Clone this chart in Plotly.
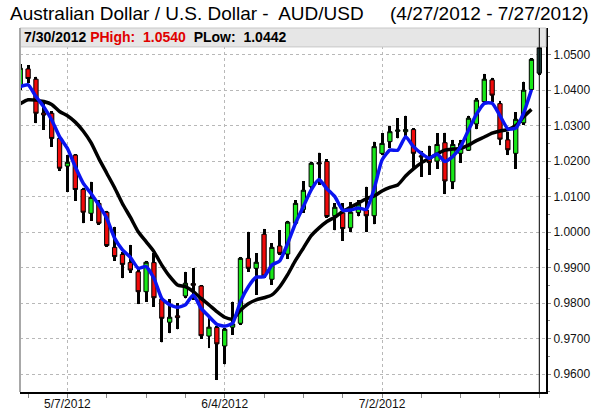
import plotly.graph_objects as go

# trading days 4/27/2012 .. 7/30/2012
dates = [
    "4/27/2012", "4/30/2012", "5/1/2012", "5/2/2012", "5/3/2012", "5/4/2012",
    "5/7/2012", "5/8/2012", "5/9/2012", "5/10/2012", "5/11/2012",
    "5/14/2012", "5/15/2012", "5/16/2012", "5/17/2012", "5/18/2012",
    "5/21/2012", "5/22/2012", "5/23/2012", "5/24/2012", "5/25/2012",
    "5/28/2012", "5/29/2012", "5/30/2012", "5/31/2012", "6/1/2012",
    "6/4/2012", "6/5/2012", "6/6/2012", "6/7/2012", "6/8/2012",
    "6/11/2012", "6/12/2012", "6/13/2012", "6/14/2012", "6/15/2012",
    "6/18/2012", "6/19/2012", "6/20/2012", "6/21/2012", "6/22/2012",
    "6/25/2012", "6/26/2012", "6/27/2012", "6/28/2012", "6/29/2012",
    "7/2/2012", "7/3/2012", "7/4/2012", "7/5/2012", "7/6/2012",
    "7/9/2012", "7/10/2012", "7/11/2012", "7/12/2012", "7/13/2012",
    "7/16/2012", "7/17/2012", "7/18/2012", "7/19/2012", "7/20/2012",
    "7/23/2012", "7/24/2012", "7/25/2012", "7/26/2012", "7/27/2012",
    "7/30/2012",
]

open_ = [
    1.0413, 1.0460, 1.0431, 1.0336, 1.0335, 1.0264, 1.0186, 1.0217, 1.0120, 1.0053, 1.0081,
    1.0056, 0.9957, 0.9937, 0.9914, 0.9888, 0.9832, 0.9914, 0.9811, 0.9746, 0.9764,
    0.9820, 0.9855, 0.9848, 0.9707, 0.9731, 0.9679, 0.9732, 0.9743, 0.9926, 0.9898,
    0.9994, 0.9867, 0.9961, 0.9938, 1.0025, 1.0064, 1.0128, 1.0196, 1.0199, 1.0046,
    1.0054, 1.0012, 1.0055, 1.0062, 1.0046, 1.0222, 1.0255, 1.0284, 1.0283, 1.0289,
    1.0215, 1.0209, 1.0200, 1.0252, 1.0142, 1.0222, 1.0231, 1.0305, 1.0368, 1.0429,
    1.0362, 1.0260, 1.0222, 1.0308, 1.0402, 1.0448,
]
high = [
    1.0475, 1.0471, 1.0438, 1.0368, 1.0340, 1.0268, 1.0217, 1.0220, 1.0125, 1.0142, 1.0090,
    1.0060, 1.0015, 0.9945, 0.9964, 0.9903, 0.9919, 0.9940, 0.9815, 0.9811, 0.9799,
    0.9888, 0.9898, 0.9851, 0.9762, 0.9735, 0.9731, 0.9804, 0.9930, 1.0001, 0.9940,
    1.0009, 0.9968, 1.0006, 1.0032, 1.0090, 1.0144, 1.0199, 1.0224, 1.0205, 1.0082,
    1.0081, 1.0084, 1.0090, 1.0128, 1.0255, 1.0278, 1.0300, 1.0321, 1.0328, 1.0293,
    1.0229, 1.0244, 1.0278, 1.0280, 1.0260, 1.0260, 1.0328, 1.0378, 1.0446, 1.0435,
    1.0370, 1.0283, 1.0338, 1.0424, 1.0490, 1.0540,
]
low = [
    1.0400, 1.0419, 1.0307, 1.0288, 1.0241, 1.0172, 1.0114, 1.0089, 1.0025, 1.0032, 1.0020,
    0.9959, 0.9919, 0.9870, 0.9886, 0.9797, 0.9804, 0.9790, 0.9689, 0.9715, 0.9726,
    0.9813, 0.9809, 0.9700, 0.9673, 0.9583, 0.9627, 0.9710, 0.9738, 0.9888, 0.9823,
    0.9870, 0.9851, 0.9935, 0.9924, 1.0020, 1.0055, 1.0120, 1.0133, 1.0040, 1.0005,
    0.9975, 1.0001, 1.0044, 1.0000, 1.0022, 1.0217, 1.0236, 1.0264, 1.0264, 1.0180,
    1.0156, 1.0161, 1.0178, 1.0107, 1.0121, 1.0195, 1.0229, 1.0290, 1.0362, 1.0366,
    1.0245, 1.0217, 1.0178, 1.0302, 1.0400, 1.0442,
]
close = [
    1.0462, 1.0433, 1.0335, 1.0330, 1.0264, 1.0180, 1.0197, 1.0120, 1.0056, 1.0098, 1.0025,
    0.9962, 0.9931, 0.9909, 0.9893, 0.9832, 0.9915, 0.9815, 0.9757, 0.9760, 0.9759,
    0.9856, 0.9850, 0.9708, 0.9732, 0.9685, 0.9726, 0.9741, 0.9926, 0.9898, 0.9915,
    0.9876, 0.9957, 0.9940, 1.0028, 1.0081, 1.0118, 1.0194, 1.0192, 1.0044, 1.0070,
    1.0010, 1.0056, 1.0079, 1.0046, 1.0241, 1.0250, 1.0283, 1.0288, 1.0289, 1.0222,
    1.0212, 1.0196, 1.0247, 1.0144, 1.0247, 1.0250, 1.0321, 1.0372, 1.0431, 1.0386,
    1.0262, 1.0232, 1.0318, 1.0400, 1.0487, 1.0520,
]

# moving averages (4/27 .. 7/27)
ma_fast = [
    1.0410, 1.0415, 1.0382, 1.0353, 1.0316, 1.0269, 1.0236, 1.0184, 1.0138, 1.0109, 1.0076,
    1.0039, 0.9983, 0.9950, 0.9929, 0.9898, 0.9903, 0.9870, 0.9813, 0.9795, 0.9788,
    0.9795, 0.9823, 0.9785, 0.9762, 0.9740, 0.9735, 0.9743, 0.9804, 0.9846, 0.9873,
    0.9874, 0.9907, 0.9919, 0.9968, 1.0025, 1.0072, 1.0119, 1.0148, 1.0122, 1.0100,
    1.0062, 1.0062, 1.0068, 1.0064, 1.0122, 1.0203, 1.0231, 1.0231, 1.0269, 1.0241,
    1.0222, 1.0208, 1.0220, 1.0199, 1.0213, 1.0241, 1.0288, 1.0332, 1.0363, 1.0363,
    1.0328, 1.0291, 1.0293, 1.0335, 1.0401,
]
ma_slow = [
    1.0362, 1.0373, 1.0372, 1.0368, 1.0360, 1.0340, 1.0328, 1.0310, 1.0285, 1.0252, 1.0207,
    1.0166, 1.0125, 1.0080, 1.0042, 1.0001, 0.9973, 0.9945, 0.9907, 0.9875, 0.9851,
    0.9846, 0.9832, 0.9813, 0.9795, 0.9776, 0.9760, 0.9755, 0.9780, 0.9798, 0.9809,
    0.9815, 0.9823, 0.9846, 0.9880, 0.9920, 0.9955, 0.9990, 1.0012, 1.0030, 1.0042,
    1.0058, 1.0070, 1.0082, 1.0094, 1.0102, 1.0116, 1.0126, 1.0133, 1.0158, 1.0178,
    1.0195, 1.0208, 1.0220, 1.0231, 1.0234, 1.0236, 1.0245, 1.0258, 1.0268, 1.0279,
    1.0285, 1.0289, 1.0300, 1.0325, 1.0346,
]

date_labels = ["5/7/2012", "6/4/2012", "7/2/2012"]
title_left = "Australian Dollar / U.S. Dollar -&nbsp; AUD/USD"
title_right = "(4/27/2012 - 7/27/2012)"

FONT = "Arial, Liberation Sans, sans-serif"
GREEN = "#18e818"
RED = "#f00a0a"

idx = list(range(len(dates)))
last = len(dates) - 1
hist = idx[:last]

fig = go.Figure()

# thick wicks as thin bars (bar layer sits under the candle bodies)
fig.add_trace(go.Bar(x=idx, base=low, y=[h - l for h, l in zip(high, low)],
                     width=0.38, marker=dict(color="black", line=dict(width=0)),
                     hoverinfo="skip"))

fig.add_trace(go.Candlestick(
    x=hist, open=open_[:last], high=high[:last], low=low[:last], close=close[:last],
    increasing=dict(fillcolor=GREEN, line=dict(color="black", width=1)),
    decreasing=dict(fillcolor=RED, line=dict(color="black", width=1)),
    whiskerwidth=0,
))
# latest (partial) day
fig.add_trace(go.Candlestick(
    x=[last], open=[open_[last]], high=[high[last]], low=[low[last]], close=[close[last]],
    increasing=dict(fillcolor="#1d3d3a", line=dict(color="black", width=1)),
    decreasing=dict(fillcolor="#1d3d3a", line=dict(color="black", width=1)),
    whiskerwidth=0,
))

fig.add_trace(go.Scatter(x=hist, y=ma_slow, mode="lines",
                         line=dict(color="black", width=3.5, shape="spline", smoothing=0.6)))
fig.add_trace(go.Scatter(x=hist, y=ma_fast, mode="lines",
                         line=dict(color="#0a14f0", width=3.5, shape="spline", smoothing=0.5)))

fig.add_shape(type="rect", xref="paper", yref="paper", x0=0, x1=1, y0=0.948, y1=1,
              fillcolor="#e6e6e6", line=dict(color="#c8c8c8", width=1), layer="above")
fig.add_shape(type="line", xref="x", yref="paper", x0=last, x1=last, y0=0, y1=1,
              line=dict(color="black", width=1), layer="above")
fig.add_shape(type="line", xref="paper", yref="paper", x0=0, x1=0, y0=0, y1=1,
              line=dict(color="#a8a8a8", width=2), layer="above")

fig.add_annotation(xref="paper", yref="paper", x=0.004, y=0.974, xanchor="left", yanchor="middle",
                   showarrow=False, font=dict(family=FONT, size=14, color="black"),
                   text=f"<b>{dates[last]} <span style='color:#e00000'>PHigh:&nbsp; {high[last]:.4f}</span>"
                        f"&nbsp; PLow:&nbsp; {low[last]:.4f}</b>")
fig.add_annotation(xref="paper", yref="paper", x=-0.023, y=1.040, xanchor="left", yanchor="middle",
                   showarrow=False, font=dict(family=FONT, size=19, color="black"), text=title_left)
fig.add_annotation(xref="paper", yref="paper", x=1.085, y=1.040, xanchor="right", yanchor="middle",
                   showarrow=False, font=dict(family=FONT, size=19, color="black"), text=title_right)

fig.update_layout(
    width=595, height=412,
    margin=dict(l=20, r=49, t=28, b=20),
    paper_bgcolor="white", plot_bgcolor="white",
    showlegend=False, bargap=0, boxgap=0.22,
    font=dict(family=FONT, size=12, color="#111"),
    xaxis=dict(
        range=[-0.03, 66.85], rangeslider=dict(visible=False), automargin=False,
        tickvals=[dates.index(d) for d in date_labels], ticktext=date_labels,
        showgrid=True, gridcolor="#b8b8b8", griddash="dot", gridwidth=1,
        ticks="",
        showline=True, linecolor="black", linewidth=2, zeroline=False,
        minor=dict(tick0=1, dtick=5, ticks="outside", ticklen=4, tickcolor="#888", showgrid=False),
        tickfont=dict(size=12),
    ),
    yaxis=dict(
        side="right", range=[0.95493, 1.05753], tick0=0.96, dtick=0.01, tickformat=".4f",
        automargin=False,
        showgrid=True, gridcolor="#b8b8b8", griddash="dot", gridwidth=1,
        ticks="outside", ticklen=3, tickcolor="#888",
        showline=True, linecolor="black", linewidth=2, zeroline=False,
        minor=dict(dtick=0.005, ticks="outside", ticklen=2, tickcolor="#888", showgrid=False),
        tickfont=dict(size=12),
    ),
)

# page body has a default 8px margin; drop it so the figure sits at the window origin
fig.write_html("out.html", config={"displayModeBar": False},
               post_script="document.body.style.margin='0';")
